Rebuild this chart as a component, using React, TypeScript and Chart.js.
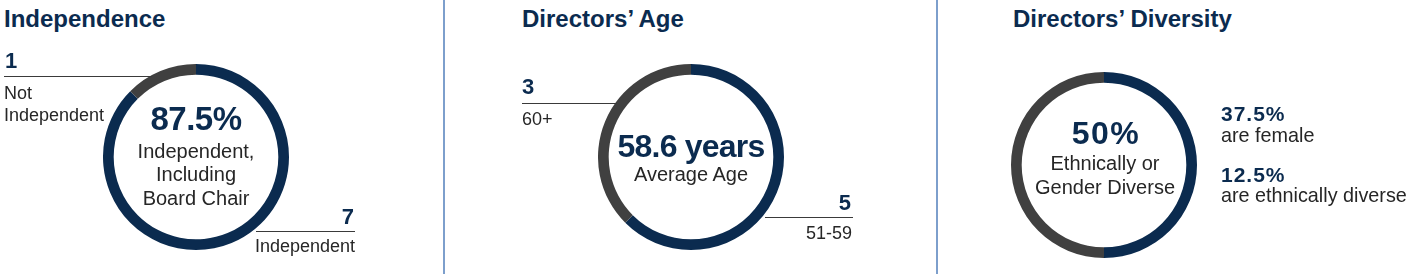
import React, { useEffect, useRef } from "react";
import { Chart, registerables } from "chart.js";

Chart.register(...registerables);

// ---- Data ----
const independenceLabels = ["Independent", "Not Independent"];
const independenceValues = [7, 1];

const ageLabels = ["51-59", "60+"];
const ageValues = [5, 3];

const diversityLabels = ["Ethnically or Gender Diverse", "Other"];
const diversityValues = [50, 50];

const femaleShare = "37.5%";
const ethnicShare = "12.5%";
const averageAge = "58.6 years";
const independentShare = "87.5%";
const diverseShare = "50%";

// ---- Styles ----
const NAVY = "#0b2b4f";
const GRAY = "#404040";
const TEXT = "#262626";
const SEP = "#7d9fcc";
const FONT = '"Liberation Sans", Arial, Helvetica, sans-serif';

type DonutProps = { labels: string[]; values: number[]; cx: number; cy: number; r: number };

function Donut({ labels, values, cx, cy, r }: DonutProps) {
  const ref = useRef<HTMLCanvasElement | null>(null);
  useEffect(() => {
    if (!ref.current) return;
    const chart = new Chart(ref.current, {
      type: "doughnut",
      data: {
        labels,
        datasets: [
          {
            data: values,
            backgroundColor: [NAVY, GRAY],
            borderWidth: 0,
            hoverOffset: 0,
          },
        ],
      },
      options: {
        responsive: false,
        animation: false,
        cutout: "88.5%",
        layout: { padding: 0 },
        plugins: { legend: { display: false }, tooltip: { enabled: false } },
        events: [],
      },
    });
    return () => chart.destroy();
  }, []);
  const size = r * 2;
  return (
    <canvas
      ref={ref}
      width={size}
      height={size}
      style={{ position: "absolute", left: cx - r, top: cy - r, width: size, height: size }}
    />
  );
}

type TProps = {
  x: number;
  y: number; // baseline
  size: number;
  bold?: boolean;
  color?: string;
  align?: "left" | "right" | "center";
  spacing?: number;
  children: React.ReactNode;
};

function T({ x, y, size, bold, color, align = "left", spacing = 0, children }: TProps) {
  const top = y - 0.8465 * size;
  const W = 400;
  let left = x;
  if (align === "right") left = x - W;
  if (align === "center") left = x - W / 2;
  return (
    <div
      style={{
        position: "absolute",
        left,
        top,
        width: W,
        textAlign: align,
        fontFamily: FONT,
        fontSize: size,
        lineHeight: `${size}px`,
        fontWeight: bold ? 700 : 400,
        color: color || TEXT,
        whiteSpace: "nowrap",
        letterSpacing: spacing,
      }}
    >
      {children}
    </div>
  );
}

function HLine({ x1, x2, y }: { x1: number; x2: number; y: number }) {
  return (
    <div style={{ position: "absolute", left: x1, top: y, width: x2 - x1, height: 1, background: "#3a3a3a" }} />
  );
}

function VLine({ x }: { x: number }) {
  return <div style={{ position: "absolute", left: x, top: 0, width: 2, height: 274, background: SEP }} />;
}

export default function App() {
  return (
    <div
      style={{
        position: "absolute",
        left: 0,
        top: 0,
        width: 1414,
        height: 274,
        overflow: "hidden",
        background: "#ffffff",
      }}
    >
      <VLine x={443} />
      <VLine x={936} />

      {/* Panel 1 */}
      <T x={4} y={27} size={24} bold color={NAVY}>Independence</T>
      <Donut labels={independenceLabels} values={independenceValues} cx={196} cy={157} r={93} />
      <T x={5} y={69} size={22} bold color={NAVY}>{String(independenceValues[1])}</T>
      <HLine x1={4} x2={152} y={76} />
      <T x={4} y={99} size={18}>Not</T>
      <T x={4} y={121} size={18}>Independent</T>
      <T x={354} y={225} size={22} bold color={NAVY} align="right">{String(independenceValues[0])}</T>
      <HLine x1={256} x2={355} y={231} />
      <T x={355} y={252} size={18} align="right">Independent</T>
      <T x={196} y={130} size={33} bold color={NAVY} align="center" spacing={-0.5}>{independentShare}</T>
      <T x={196} y={158} size={20} align="center">Independent,</T>
      <T x={196} y={181} size={20} align="center">Including</T>
      <T x={196} y={205} size={20} align="center">Board Chair</T>

      {/* Panel 2 */}
      <T x={522} y={27} size={24} bold color={NAVY}>Directors’ Age</T>
      <Donut labels={ageLabels} values={ageValues} cx={691} cy={157} r={93} />
      <T x={522} y={95} size={22} bold color={NAVY}>{String(ageValues[1])}</T>
      <HLine x1={522} x2={617} y={103} />
      <T x={522} y={125} size={18}>60+</T>
      <T x={851} y={211} size={22} bold color={NAVY} align="right">{String(ageValues[0])}</T>
      <HLine x1={765} x2={853} y={217} />
      <T x={852} y={239} size={18} align="right">51-59</T>
      <T x={691} y={157} size={32} bold color={NAVY} align="center" spacing={-0.8}>{averageAge}</T>
      <T x={691} y={181} size={20} align="center">Average Age</T>

      {/* Panel 3 */}
      <T x={1013} y={27} size={24} bold color={NAVY}>Directors’ Diversity</T>
      <Donut labels={diversityLabels} values={diversityValues} cx={1104} cy={165} r={93} />
      <T x={1106} y={144} size={32} bold color={NAVY} align="center" spacing={1.5}>{diverseShare}</T>
      <T x={1105} y={170} size={20} align="center">Ethnically or</T>
      <T x={1105} y={194} size={20} align="center">Gender Diverse</T>
      <T x={1221} y={121} size={21} bold color={NAVY} spacing={1}>{femaleShare}</T>
      <T x={1221} y={143} size={19.8}>are female</T>
      <T x={1221} y={182} size={21} bold color={NAVY} spacing={1}>{ethnicShare}</T>
      <T x={1221} y={203} size={19.8}>are ethnically diverse</T>
    </div>
  );
}
